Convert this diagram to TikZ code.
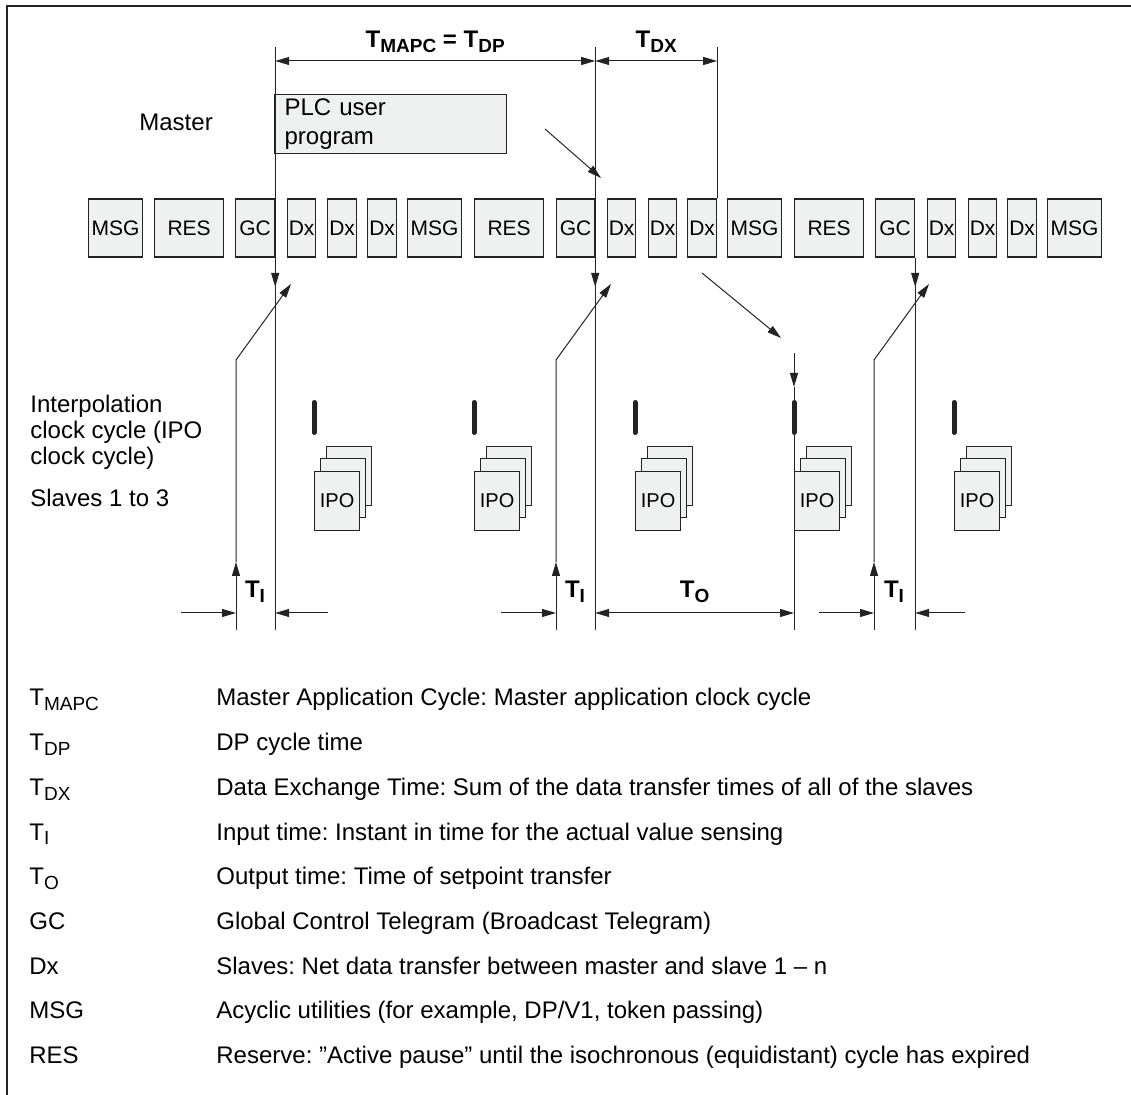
\documentclass[tikz,border=0pt]{standalone}
\usepackage{fontspec}
\setmainfont{Liberation Sans}
\usetikzlibrary{arrows.meta, positioning}
\definecolor{sheetgray}{RGB}{239,241,240}
\definecolor{inkgray}{RGB}{35,35,35}
\newcommand{\tsub}[1]{\raisebox{-0.2em}{\fontsize{9.5}{10}\selectfont #1}}
\frenchspacing

\begin{document}
\begin{tikzpicture}[x=0.5pt, y=-0.5pt,
    >={Triangle[length=7pt, width=4pt]},
    thinline/.style={draw=inkgray, line width=0.5pt},
    tgram/.style={draw=inkgray, fill=sheetgray, line width=0.6pt, inner sep=0pt, minimum height=29pt, anchor=west, font=\fontsize{10.5}{12}\selectfont},
    iposheet/.style={draw=inkgray, fill=sheetgray, line width=0.6pt, inner sep=0pt, minimum width=22.5pt, minimum height=29.5pt, anchor=north west, font=\fontsize{10}{12}\selectfont},
    ipobar/.style={draw=inkgray, line width=2.5pt, line cap=round},
    timelbl/.style={font=\fontsize{12}{14}\selectfont\bfseries, inner sep=0pt, anchor=base},
    bodytext/.style={font=\fontsize{12}{14}\selectfont, inner sep=0pt},
]
    \useasboundingbox (0,0) rectangle (1131,1095);

    % Frame
    \draw[inkgray, line width=0.8pt] (7,1095) -- (7,6) -- (1131,6);

    % Master
    \node[bodytext, anchor=west] (master) at (139,122) {Master};
    \node[draw=inkgray, fill=sheetgray, line width=0.6pt, anchor=north west, minimum width=116pt, minimum height=29.5pt,
          text width=106pt, inner xsep=5pt, inner ysep=0pt, align=left, font=\fontsize{12}{14.5}\selectfont] (plc) at (274,94) {PLC user\\program};

    % Telegrams
    \foreach \x/\w/\t/\n in {88/54/MSG/msg1, 154/69/RES/res1, 235/39/GC/gc1, 287/28/Dx/dx1, 327/29/Dx/dx2, 367/29/Dx/dx3,
                             407/54/MSG/msg2, 474/69/RES/res2, 556/38/GC/gc2, 607/28/Dx/dx4, 648/28/Dx/dx5, 687/29/Dx/dx6,
                             727/54/MSG/msg3, 794/69/RES/res3, 875/39/GC/gc3, 927/28/Dx/dx7, 968/28/Dx/dx8, 1007/29/Dx/dx9,
                             1047/54/MSG/msg4}
        \node[tgram, minimum width=\w*0.5pt] (\n) at (\x,228) {\t};

    % Helper levels
    \coordinate (top) at (0,47);
    \coordinate (dimtop) at (0,61);
    \coordinate (gcarr) at (0,287);
    \coordinate (dimbot) at (0,613);
    \coordinate (bot) at (0,630);

    % Cycle lines
    \draw[thinline] (gc1.south east |- top) -- (gc1.south east |- bot);
    \draw[thinline] (gc2.south east |- top) -- (gc2.south east |- bot);
    \draw[thinline] (dx6.north east) -- (dx6.north east |- top);
    \draw[thinline] (gc3.south east) -- (gc3.south east |- bot);
    \foreach \n in {gc1, gc2, gc3}
        \draw[thinline, ->] (\n.south east) -- (\n.south east |- gcarr);

    % T_MAPC and T_DX
    \draw[thinline, <->] (gc1.south east |- dimtop) -- (gc2.south east |- dimtop)
        node[timelbl, midway, yshift=6.5pt] {T\tsub{MAPC} = T\tsub{DP}};
    \draw[thinline, <->] (gc2.south east |- dimtop) -- (dx6.north east |- dimtop)
        node[timelbl, midway, yshift=6.5pt] {T\tsub{DX}};

    % Program to data exchange
    \coordinate (plcout) at (545,129);
    \coordinate (plcin) at (601,178);
    \draw[thinline, ->] (plcout) -- (plcin);
    \coordinate (dxout) at (702,273);
    \coordinate (setin) at (781,338);
    \draw[thinline, ->] (dxout) -- (setin);

    % Inputs
    \foreach \n/\x in {1/236, 2/556, 3/874} {
        \coordinate (in\n) at (\x,630);
        \coordinate (bend\n) at (\x,360);
        \coordinate (tip\n) at (\x+55,284);
        \coordinate (dl\n) at (\x-55,613);
        \draw[thinline, ->] (in\n) -- (in\n |- 0,562);
        \draw[thinline, ->] (in\n |- 0,562) -- (bend\n) -- (tip\n);
        \draw[thinline, ->] (dl\n) -- (in\n |- dimbot);
    }

    % Output
    \coordinate (out) at (794,630);
    \draw[thinline, ->] (out |- 0,353) -- (out |- 0,387);
    \draw[thinline] (out |- 0,387) -- (out);

    % IPO clock cycles
    \foreach \x [count=\k] in {314,474,635,794,954} {
        \draw[ipobar] (\x,402.5) -- (\x,432.5);
        \node[iposheet] (ipoc\k) at (\x+12,446) {};
        \node[iposheet] (ipob\k) at (\x+6,458) {};
        \node[iposheet] (ipoa\k) at (\x,471) {IPO};
    }
    \draw[thinline] (ipoa4.north west) -- (ipoa4.south west);

    % T_I and T_O
    \coordinate (dr1) at (328,613);
    \coordinate (dr3) at (965,613);
    \draw[thinline, ->] (dr1) -- (gc1.south east |- dimbot);
    \draw[thinline, ->] (dr3) -- (gc3.south east |- dimbot);
    \draw[thinline, <->] (gc2.south east |- dimbot) -- (out |- dimbot)
        node[timelbl, midway, yshift=7.5pt] {T\tsub{O}};
    \node[timelbl] (ti1) at (255,598) {T\tsub{I}};
    \node[timelbl] (ti2) at (575,598) {T\tsub{I}};
    \node[timelbl] (ti3) at (894,598) {T\tsub{I}};

    % Slaves
    \node[bodytext, anchor=west, align=left, font=\fontsize{12}{13}\selectfont] (ipotext) at (30,432)
        {Interpolation\\clock cycle (IPO\\clock cycle)};
    \node[bodytext, anchor=west] (slaves) at (30,498) {Slaves 1 to 3};

    % Legend
    \foreach \s/\d [count=\k from 0] in {
        {T\tsub{MAPC}}/{Master Application Cycle: Master application clock cycle},
        {T\tsub{DP}}/{DP cycle time},
        {T\tsub{DX}}/{Data Exchange Time: Sum of the data transfer times of all of the slaves},
        {T\tsub{I}}/{Input time: Instant in time for the actual value sensing},
        {T\tsub{O}}/{Output time: Time of setpoint transfer},
        {GC}/{Global Control Telegram (Broadcast Telegram)},
        {Dx}/{Slaves: Net data transfer between master and slave 1 -- n},
        {MSG}/{Acyclic utilities (for example, DP/V1, token passing)},
        {RES}/{Reserve: ”Active pause” until the isochronous (equidistant) cycle has expired}} {
        \node[bodytext, anchor=base west] (sym\k) at (29,{706+44.7*\k}) {\s};
        \node[bodytext, anchor=base west] (desc\k) at (216,{706+44.7*\k}) {\d};
    }
\end{tikzpicture}
\end{document}
